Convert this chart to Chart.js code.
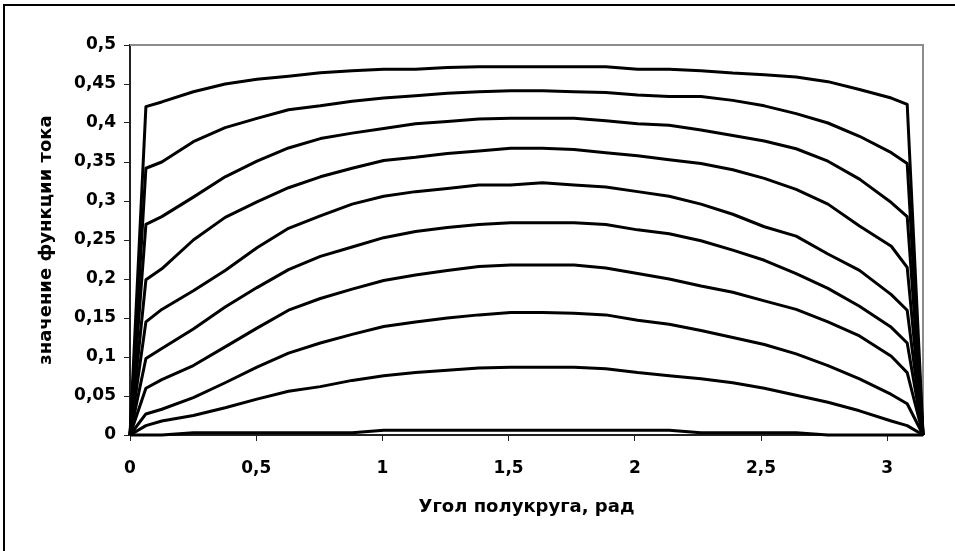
<!DOCTYPE html>
<html>
<head>
<meta charset="utf-8">
<script src="https://cdn.jsdelivr.net/npm/chart.js@4.4.1/dist/chart.umd.min.js"></script>
<style>
  html, body { margin: 0; padding: 0; background: #fff; }
  #wrap { position: relative; width: 955px; height: 551px; }
</style>
</head>
<body>
<div id="wrap"><canvas id="chart"></canvas></div>
<script>
// угол полукруга, рад
const angle = [0, 0.063, 0.126, 0.251, 0.377, 0.503, 0.628, 0.754, 0.880, 1.005, 1.131, 1.257, 1.382, 1.508,
               1.634, 1.759, 1.885, 2.011, 2.136, 2.262, 2.388, 2.513, 2.639, 2.765, 2.890, 3.016, 3.079, 3.142];

// значения функции тока, сверху вниз
const psi1  = [0, 0.421, 0.427, 0.440, 0.450, 0.456, 0.460, 0.4645, 0.467, 0.469, 0.469, 0.471, 0.472, 0.472,
               0.472, 0.472, 0.472, 0.469, 0.469, 0.467, 0.464, 0.462, 0.459, 0.453, 0.443, 0.432, 0.424, 0];
const psi2  = [0, 0.342, 0.350, 0.376, 0.394, 0.406, 0.417, 0.422, 0.428, 0.432, 0.435, 0.438, 0.440, 0.4415,
               0.4415, 0.440, 0.439, 0.436, 0.434, 0.434, 0.429, 0.422, 0.412, 0.400, 0.383, 0.362, 0.348, 0];
const psi3  = [0, 0.270, 0.280, 0.305, 0.331, 0.351, 0.368, 0.380, 0.387, 0.393, 0.399, 0.402, 0.405, 0.406,
               0.406, 0.406, 0.403, 0.399, 0.397, 0.391, 0.384, 0.377, 0.367, 0.351, 0.328, 0.298, 0.280, 0];
const psi4  = [0, 0.199, 0.213, 0.250, 0.279, 0.299, 0.317, 0.331, 0.342, 0.352, 0.356, 0.361, 0.364, 0.3675,
               0.3675, 0.366, 0.362, 0.358, 0.353, 0.348, 0.340, 0.329, 0.315, 0.296, 0.268, 0.242, 0.215, 0];
const psi5  = [0, 0.145, 0.161, 0.185, 0.211, 0.240, 0.265, 0.281, 0.296, 0.306, 0.312, 0.316, 0.3205, 0.3205,
               0.3235, 0.3205, 0.318, 0.312, 0.306, 0.296, 0.283, 0.267, 0.255, 0.232, 0.211, 0.180, 0.160, 0];
const psi6  = [0, 0.098, 0.111, 0.136, 0.164, 0.189, 0.212, 0.229, 0.241, 0.253, 0.261, 0.266, 0.270, 0.272,
               0.272, 0.272, 0.270, 0.263, 0.258, 0.249, 0.237, 0.224, 0.207, 0.188, 0.165, 0.138, 0.118, 0];
const psi7  = [0, 0.060, 0.071, 0.089, 0.113, 0.137, 0.160, 0.175, 0.187, 0.198, 0.205, 0.211, 0.216, 0.218,
               0.218, 0.218, 0.214, 0.207, 0.200, 0.191, 0.183, 0.172, 0.161, 0.145, 0.127, 0.101, 0.080, 0];
const psi8  = [0, 0.027, 0.033, 0.048, 0.067, 0.087, 0.105, 0.118, 0.129, 0.139, 0.145, 0.150, 0.154, 0.157,
               0.157, 0.156, 0.154, 0.147, 0.142, 0.134, 0.125, 0.116, 0.104, 0.089, 0.072, 0.052, 0.040, 0];
const psi9  = [0, 0.012, 0.018, 0.025, 0.035, 0.046, 0.056, 0.062, 0.070, 0.076, 0.080, 0.083, 0.086, 0.087,
               0.087, 0.087, 0.085, 0.080, 0.076, 0.072, 0.067, 0.060, 0.051, 0.042, 0.031, 0.018, 0.012, 0];
const psi10 = [0, 0, 0, 0.003, 0.003, 0.003, 0.003, 0.003, 0.003, 0.006, 0.006, 0.006, 0.006, 0.006,
               0.006, 0.006, 0.006, 0.006, 0.006, 0.003, 0.003, 0.003, 0.003, 0, 0, 0, 0, 0];

const xTicks = [0, 0.5, 1, 1.5, 2, 2.5, 3];
const xTickLabels = ['0', '0,5', '1', '1,5', '2', '2,5', '3'];
const yTicks = [0, 0.05, 0.1, 0.15, 0.2, 0.25, 0.3, 0.35, 0.4, 0.45, 0.5];
const yTickLabels = ['0', '0,05', '0,1', '0,15', '0,2', '0,25', '0,3', '0,35', '0,4', '0,45', '0,5'];

const series = [psi1, psi2, psi3, psi4, psi5, psi6, psi7, psi8, psi9, psi10];

const TICK_FONT = { family: '"DejaVu Sans", sans-serif', weight: 'bold', size: 17 };
const TITLE_FONT = { family: '"DejaVu Sans", sans-serif', weight: 'bold', size: 18 };

// рамка всей диаграммы + серая рамка области построения
const framePlugin = {
  id: 'frame',
  beforeDraw(chart) {
    const { ctx, width, height } = chart;
    ctx.save();
    ctx.fillStyle = '#fff';
    ctx.fillRect(0, 0, width, height);
    ctx.strokeStyle = '#000';
    ctx.lineWidth = 2;
    ctx.strokeRect(4, 5, width + 20, height + 20);
    ctx.restore();
  },
  beforeDatasetsDraw(chart) {
    const { ctx, chartArea: a } = chart;
    ctx.save();
    ctx.strokeStyle = '#8c8c8c';
    ctx.lineWidth = 2;
    ctx.beginPath();
    ctx.moveTo(a.left, a.top);
    ctx.lineTo(a.right, a.top);
    ctx.lineTo(a.right, a.bottom);
    ctx.stroke();
    ctx.restore();
  }
};

new Chart(document.getElementById('chart'), {
  type: 'line',
  data: {
    datasets: series.map((s, k) => ({
      label: 'psi' + (k + 1),
      data: angle.map((x, i) => ({ x, y: s[i] })),
      borderColor: '#000',
      borderWidth: 3,
      borderJoinStyle: 'round',
      pointRadius: 0,
      tension: 0,
      fill: false,
      clip: false
    }))
  },
  options: {
    responsive: true,
    maintainAspectRatio: false,
    animation: false,
    layout: { padding: { left: 0, top: 45, right: 32, bottom: 0 } },
    plugins: { legend: { display: false }, tooltip: { enabled: false } },
    scales: {
      x: {
        type: 'linear',
        min: 0,
        max: 3.1416,
        afterBuildTicks: s => { s.ticks = xTicks.map(v => ({ value: v })); },
        afterFit: s => { s.height = 116; },
        border: { color: '#222', width: 2 },
        grid: { drawOnChartArea: false, tickLength: 6, color: '#222' },
        ticks: { color: '#000', font: TICK_FONT, padding: 17, maxRotation: 0,
                 callback: (v, i) => xTickLabels[i] },
        title: { display: true, text: 'Угол полукруга, рад', color: '#000', font: TITLE_FONT,
                 padding: { top: 0, bottom: 33 } }
      },
      y: {
        min: 0,
        max: 0.5,
        afterBuildTicks: s => { s.ticks = yTicks.map(v => ({ value: v })); },
        afterFit: s => { s.width = 130; },
        border: { color: '#222', width: 2 },
        grid: { drawOnChartArea: false, tickLength: 6, color: '#222' },
        ticks: { color: '#000', font: TICK_FONT, padding: 8,
                 callback: (v, i) => yTickLabels[i] },
        title: { display: true, text: 'значение функции тока', color: '#000', font: TITLE_FONT,
                 padding: { top: 36, bottom: 0 } }
      }
    }
  },
  plugins: [framePlugin]
});
</script>
</body>
</html>
